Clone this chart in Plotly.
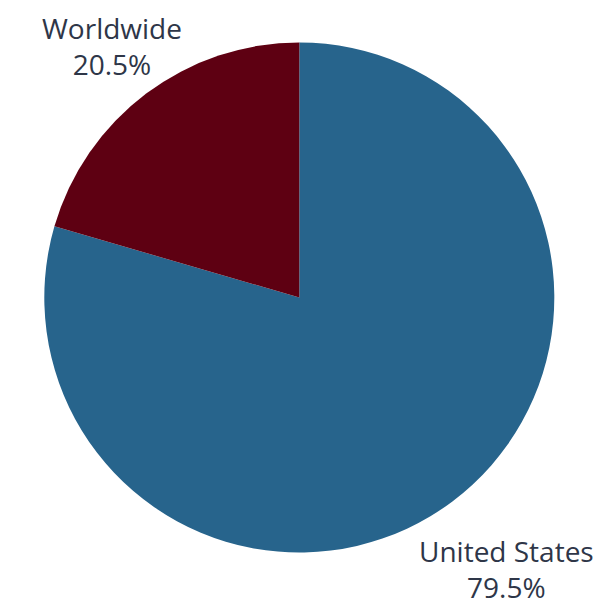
import plotly.graph_objects as go

labels = ["United States", "Worldwide"]
values = [79.5, 20.5]
colors = ["#27648C", "#5E0012"]

fig = go.Figure()
fig.add_trace(go.Pie(
    labels=labels,
    values=values,
    sort=False,
    direction="clockwise",
    rotation=0,
    marker=dict(colors=colors, line=dict(width=0)),
    textinfo="none",
    hoverinfo="label+percent",
    showlegend=False,
    domain=dict(x=[0.059, 0.893], y=[0.1, 0.943]),
))

label_pos = {"Worldwide": (0.17, 0.937), "United States": (0.814, 0.073)}
for lab, val in zip(labels, values):
    ax, ay = label_pos[lab]
    fig.add_annotation(
        x=ax, y=ay, xref="paper", yref="paper",
        text=f"{lab}<br>{val:.1f}%",
        showarrow=False,
        font=dict(family="Open Sans", size=28, color="#2E3648"),
        align="center",
        xanchor="center", yanchor="middle",
        borderpad=0,
    )

fig.update_layout(
    width=612, height=605,
    margin=dict(l=0, r=0, t=0, b=0),
    paper_bgcolor="white",
    plot_bgcolor="white",
)

fig.write_html("out.html")
